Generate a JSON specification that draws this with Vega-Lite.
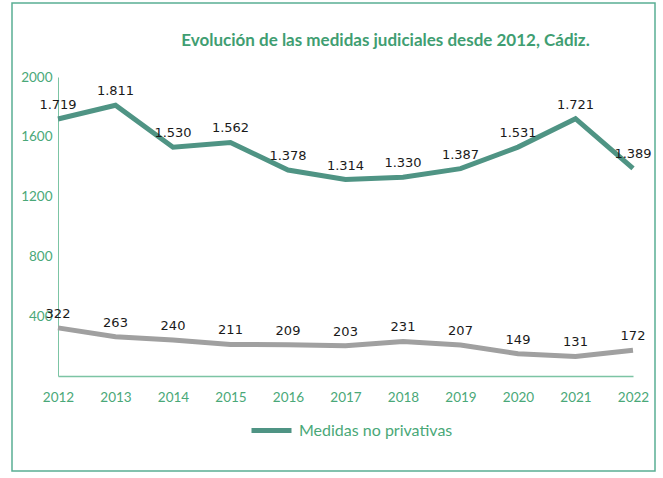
{
  "$schema": "https://vega.github.io/schema/vega-lite/v6.json",
  "autosize": "none",
  "width": 643,
  "height": 468,
  "padding": {"left": 12, "top": 3, "right": 8, "bottom": 7},
  "background": "white",
  "config": {
    "view": {"stroke": "#5aae94", "strokeWidth": 1.5},
    "locale": {"number": {"decimal": ",", "thousands": ".", "grouping": [3], "currency": ["", " €"]}},
    "font": "Lato"
  },
  "title": {
    "text": "Evolución de las medidas judiciales desde 2012, Cádiz.",
    "font": "Lato",
    "fontSize": 17,
    "fontWeight": "bold",
    "color": "#3f9e72",
    "anchor": "middle",
    "frame": "group",
    "offset": 0,
    "baseline": "middle",
    "dx": 52,
    "dy": 55
  },
  "data": {
    "values": [
      {"year": 2012, "serie": "Medidas no privativas", "value": 1719},
      {"year": 2013, "serie": "Medidas no privativas", "value": 1811},
      {"year": 2014, "serie": "Medidas no privativas", "value": 1530},
      {"year": 2015, "serie": "Medidas no privativas", "value": 1562},
      {"year": 2016, "serie": "Medidas no privativas", "value": 1378},
      {"year": 2017, "serie": "Medidas no privativas", "value": 1314},
      {"year": 2018, "serie": "Medidas no privativas", "value": 1330},
      {"year": 2019, "serie": "Medidas no privativas", "value": 1387},
      {"year": 2020, "serie": "Medidas no privativas", "value": 1531},
      {"year": 2021, "serie": "Medidas no privativas", "value": 1721},
      {"year": 2022, "serie": "Medidas no privativas", "value": 1389},
      {"year": 2012, "serie": "Medidas privativas", "value": 322},
      {"year": 2013, "serie": "Medidas privativas", "value": 263},
      {"year": 2014, "serie": "Medidas privativas", "value": 240},
      {"year": 2015, "serie": "Medidas privativas", "value": 211},
      {"year": 2016, "serie": "Medidas privativas", "value": 209},
      {"year": 2017, "serie": "Medidas privativas", "value": 203},
      {"year": 2018, "serie": "Medidas privativas", "value": 231},
      {"year": 2019, "serie": "Medidas privativas", "value": 207},
      {"year": 2020, "serie": "Medidas privativas", "value": 149},
      {"year": 2021, "serie": "Medidas privativas", "value": 131},
      {"year": 2022, "serie": "Medidas privativas", "value": 172}
    ]
  },
  "encoding": {
    "x": {
      "field": "year",
      "type": "quantitative",
      "scale": {"domain": [2012, 2022], "range": [46, 621], "nice": false, "zero": false},
      "axis": {
        "title": null,
        "values": [2012, 2013, 2014, 2015, 2016, 2017, 2018, 2019, 2020, 2021, 2022],
        "format": "d",
        "offset": -95,
        "grid": false,
        "ticks": false,
        "labelFlush": false,
        "labelOverlap": false,
        "domainColor": "#7cc4a4",
        "domainWidth": 1.5,
        "labelColor": "#4aa878",
        "labelFont": "Lato",
        "labelFontSize": 13.5,
        "labelPadding": 14
      }
    },
    "y": {
      "field": "value",
      "type": "quantitative",
      "scale": {"domain": [0, 2000], "range": [373, 74], "nice": false},
      "axis": {
        "title": null,
        "values": [400, 800, 1200, 1600, 2000],
        "format": "d",
        "offset": -46,
        "grid": false,
        "ticks": false,
        "domainColor": "#7cc4a4",
        "domainWidth": 1,
        "labelColor": "#4aa878",
        "labelFont": "Lato",
        "labelFontSize": 13.5,
        "labelPadding": 6
      }
    }
  },
  "layer": [
    {
      "mark": {"type": "line", "strokeWidth": 5, "strokeCap": "butt"},
      "encoding": {
        "color": {
          "field": "serie",
          "type": "nominal",
          "scale": {"domain": ["Medidas no privativas", "Medidas privativas"], "range": ["#4f9484", "#a0a0a0"]},
          "legend": {
            "values": ["Medidas no privativas"],
            "title": null,
            "orient": "none",
            "legendX": 237,
            "legendY": 405,
            "symbolType": "stroke",
            "symbolSize": 1600,
            "symbolStrokeWidth": 5,
            "labelColor": "#4aa878",
            "labelFont": "Lato",
            "labelFontSize": 16,
            "labelOffset": 5
          }
        }
      }
    },
    {
      "mark": {"type": "text", "dy": -14, "font": "DejaVu Sans", "fontSize": 13, "color": "#1a1a1a"},
      "encoding": {
        "text": {"field": "value", "type": "quantitative", "format": ",d"}
      }
    }
  ]
}
